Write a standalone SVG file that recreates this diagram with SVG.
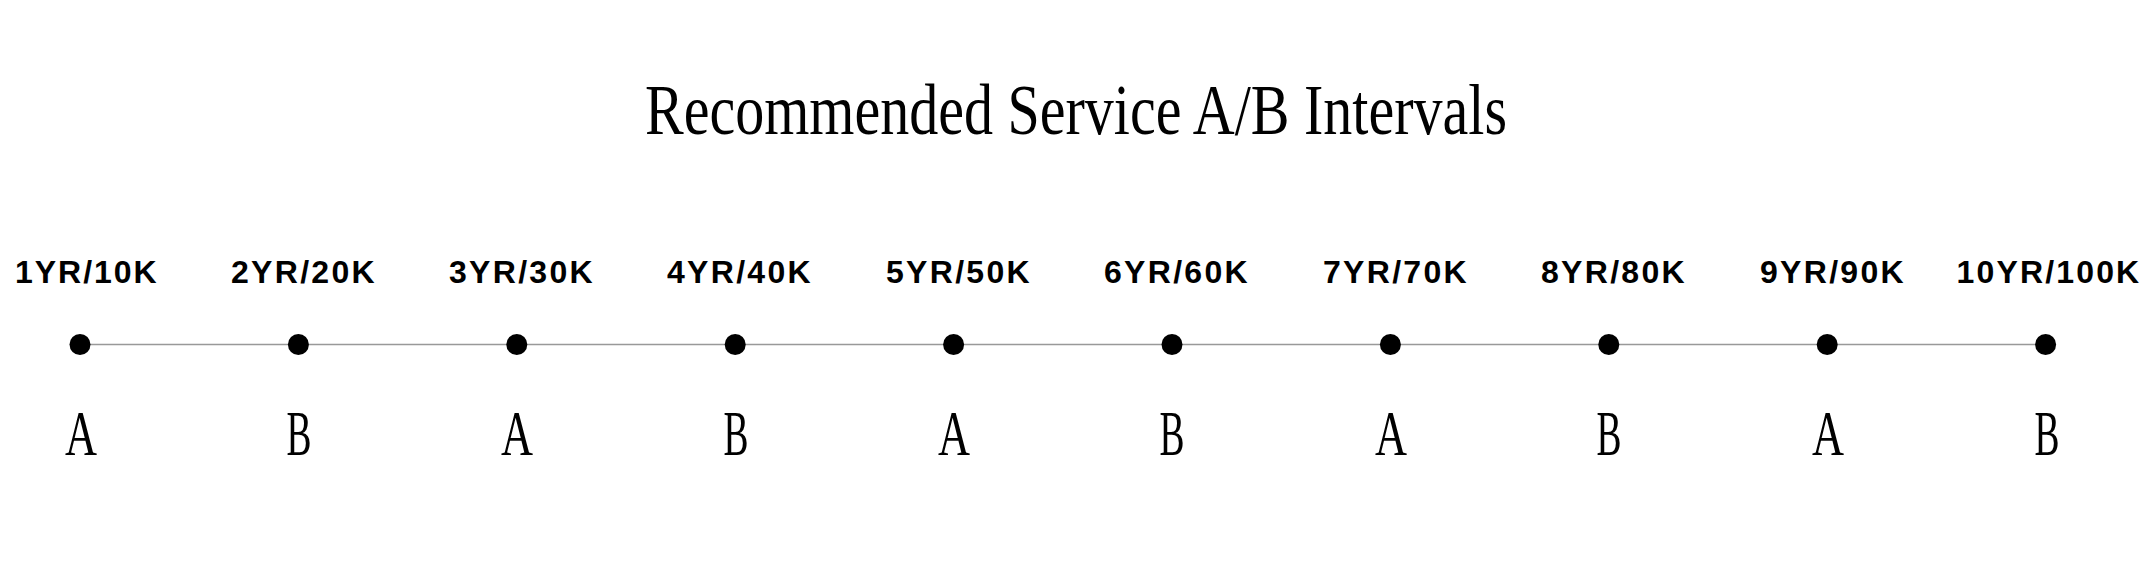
<svg xmlns="http://www.w3.org/2000/svg" width="2150" height="567" viewBox="0 0 2150 567">
<style>
.title{font-family:"Liberation Serif",serif;font-size:71px;fill:#000;text-anchor:middle}
.lbl{font-family:"Liberation Sans",Arial,sans-serif;font-weight:bold;font-size:32px;letter-spacing:2.3px;fill:#000;text-anchor:middle}
.svc{font-family:"Liberation Serif",serif;font-size:63.5px;fill:#000;text-anchor:middle}
.dot{fill:#000}
.conn{stroke:#999;stroke-width:1.6;fill:none}
</style>
<rect width="2150" height="567" fill="#fff"/>
<text class="title" x="1076" y="134" textLength="862" lengthAdjust="spacingAndGlyphs">Recommended Service A/B Intervals</text>
<g id="connectors">
<line class="conn" x1="80" y1="344.5" x2="2046" y2="344.5"/>
</g>
<g id="n1"><circle class="dot" cx="80" cy="344.5" r="10.5"/><text class="lbl" x="87" y="283" textLength="144" lengthAdjust="spacing">1YR/10K</text><text class="svc" x="81" y="455" textLength="32" lengthAdjust="spacingAndGlyphs">A</text></g>
<g id="n2"><circle class="dot" cx="298.4" cy="344.5" r="10.5"/><text class="lbl" x="304" y="283">2YR/20K</text><text class="svc" x="299" y="455" textLength="25" lengthAdjust="spacingAndGlyphs">B</text></g>
<g id="n3"><circle class="dot" cx="516.8" cy="344.5" r="10.5"/><text class="lbl" x="522" y="283">3YR/30K</text><text class="svc" x="517" y="455" textLength="32" lengthAdjust="spacingAndGlyphs">A</text></g>
<g id="n4"><circle class="dot" cx="735.2" cy="344.5" r="10.5"/><text class="lbl" x="740" y="283">4YR/40K</text><text class="svc" x="736" y="455" textLength="25" lengthAdjust="spacingAndGlyphs">B</text></g>
<g id="n5"><circle class="dot" cx="953.6" cy="344.5" r="10.5"/><text class="lbl" x="959" y="283">5YR/50K</text><text class="svc" x="954" y="455" textLength="32" lengthAdjust="spacingAndGlyphs">A</text></g>
<g id="n6"><circle class="dot" cx="1172" cy="344.5" r="10.5"/><text class="lbl" x="1177" y="283">6YR/60K</text><text class="svc" x="1172" y="455" textLength="25" lengthAdjust="spacingAndGlyphs">B</text></g>
<g id="n7"><circle class="dot" cx="1390.4" cy="344.5" r="10.5"/><text class="lbl" x="1396" y="283">7YR/70K</text><text class="svc" x="1391" y="455" textLength="32" lengthAdjust="spacingAndGlyphs">A</text></g>
<g id="n8"><circle class="dot" cx="1608.8" cy="344.5" r="10.5"/><text class="lbl" x="1614" y="283">8YR/80K</text><text class="svc" x="1609" y="455" textLength="25" lengthAdjust="spacingAndGlyphs">B</text></g>
<g id="n9"><circle class="dot" cx="1827.2" cy="344.5" r="10.5"/><text class="lbl" x="1833" y="283">9YR/90K</text><text class="svc" x="1828" y="455" textLength="32" lengthAdjust="spacingAndGlyphs">A</text></g>
<g id="n10"><circle class="dot" cx="2045.6" cy="344.5" r="10.5"/><text class="lbl" x="2049" y="283" textLength="185" lengthAdjust="spacing">10YR/100K</text><text class="svc" x="2047" y="455" textLength="25" lengthAdjust="spacingAndGlyphs">B</text></g>
</svg>
